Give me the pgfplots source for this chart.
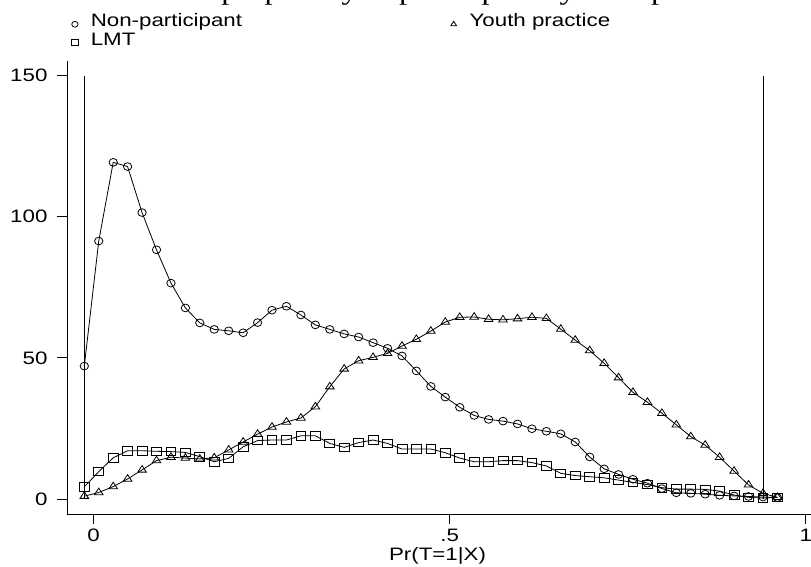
\documentclass[border=0pt]{standalone}
\usepackage{pgfplots}
\pgfplotsset{compat=1.18}
\usepackage{pgfplotstable}
\usepackage{graphicx}
\usepackage{fontspec}
\setmainfont{Liberation Sans}
\newfontfamily\titlefont{Liberation Serif}
\newcommand{\sx}[1]{\scalebox{1.24}[1]{#1}}
\newcommand{\lblfont}{\fontsize{13.5}{16}\selectfont}

\pgfplotstableread{
x np yp lmt
-0.0132 47.1 1.0 4.3
0.0071 91.4 2.3 9.7
0.0274 119.3 4.4 14.6
0.0476 117.8 7.1 17.1
0.0679 101.5 10.3 17.1
0.0882 88.3 13.6 16.9
0.1085 76.5 14.8 16.8
0.1288 67.7 14.5 16.5
0.1490 62.4 14.2 15.0
0.1693 60.1 14.6 13.2
0.1896 59.6 17.4 14.4
0.2099 58.9 20.2 18.5
0.2302 62.5 23.0 20.7
0.2504 66.9 25.5 20.9
0.2707 68.3 27.3 20.9
0.2910 65.2 28.7 22.4
0.3113 61.7 32.7 22.4
0.3316 60.1 39.8 19.7
0.3518 58.5 46.1 18.3
0.3721 57.4 49.0 20.0
0.3924 55.4 50.2 20.9
0.4127 53.4 51.6 19.7
0.4330 50.7 54.2 17.7
0.4532 45.4 56.6 17.7
0.4735 39.9 59.5 17.7
0.4938 36.1 62.7 16.4
0.5141 32.5 64.4 14.5
0.5344 29.6 64.5 13.2
0.5546 28.2 63.7 13.2
0.5749 27.6 63.5 13.6
0.5952 26.6 63.9 13.6
0.6155 24.9 64.4 12.9
0.6358 24.0 64.0 11.7
0.6560 23.1 60.2 9.1
0.6763 20.2 56.3 8.3
0.6966 14.9 52.6 7.9
0.7169 10.7 48.1 7.5
0.7372 8.7 43.0 6.7
0.7574 7.0 37.8 5.9
0.7777 5.6 34.3 5.1
0.7980 3.7 30.4 4.0
0.8183 2.2 26.3 3.5
0.8386 2.0 22.1 3.5
0.8588 1.7 19.1 3.4
0.8791 1.3 14.8 2.8
0.8994 1.1 9.9 1.4
0.9197 0.9 5.0 0.6
0.9400 0.7 2.0 0.3
0.9602 0.5 0.6 0.6
}\dens

\begin{document}
\begin{tikzpicture}
\useasboundingbox (0,0) rectangle (608.25pt,425.25pt);
\node[anchor=base west, inner sep=0pt] at (63pt,425.25pt)
  {\titlefont\fontsize{20.35}{24}\selectfont\scalebox{1.19}[1]{Estimated propensity to participate by their prior status}};
\begin{axis}[
  at={(50.475pt,39.525pt)}, anchor=south west,
  scale only axis, width=557.775pt, height=339.975pt,
  xmin=-0.03708, xmax=1.00744, ymin=-5.42, ymax=155.21,
  axis x line*=bottom, axis y line*=left,
  axis line style={black, line width=0.6pt},
  xtick={0,0.5,1}, xticklabels={\sx{0},\sx{.5},\sx{1}},
  ytick={0,50,100,150}, yticklabels={\sx{0},\sx{50},\sx{100},\sx{150}},
  minor tick num=0,
  tick align=outside, major tick length=7.5pt,
  tick style={black, line width=0.6pt},
  every tick label/.append style={font=\lblfont},
  yticklabel style={anchor=east, inner sep=0pt, xshift=-7.2pt},
  xticklabel style={anchor=north, inner sep=0pt, yshift=-3.5pt},
  xlabel={\sx{Pr(T=1|X)}},
  xlabel style={at={(axis description cs:0.4978,0)}, anchor=base, yshift=-35pt, font=\lblfont, inner sep=0pt},
  legend columns=2,
  legend cell align=left,
  legend style={draw=none, fill=none, at={(axis description cs:0.0050,1.1050)}, anchor=north west,
    font=\lblfont, inner sep=0pt, row sep=0pt,
    nodes={inner xsep=0pt, inner ysep=0pt, text height=10pt, text depth=3.7pt},
    /tikz/every even column/.append style={column sep=156pt}},
  legend image code/.code={\draw[#1, only marks, mark size=2.2pt, yshift=-1.1pt] plot coordinates {(0pt,0pt)};
    \path (-2.4pt,-1.1pt) (11.6pt,-1.1pt);},
]
\addplot[black, line width=0.6pt, mark=o, mark size=2.9pt, mark options={xscale=1.08}] table[x=x,y=np]{\dens};
\addlegendentry{\sx{Non-participant}}
\addplot[black, line width=0.6pt, mark=triangle, mark size=3.3pt, mark options={xscale=1.13}] table[x=x,y=yp]{\dens};
\addlegendentry{\sx{Youth practice}}
\addplot[black, line width=0.6pt, mark=square, mark size=3.2pt, mark options={xscale=1.15}] table[x=x,y=lmt]{\dens};
\addlegendentry{\sx{LMT}}
\addplot[black, line width=0.6pt, forget plot] coordinates {(-0.0132,0) (-0.0132,150)};
\addplot[black, line width=0.6pt, forget plot] coordinates {(0.9400,0) (0.9400,150)};
\end{axis}
\end{tikzpicture}
\end{document}
